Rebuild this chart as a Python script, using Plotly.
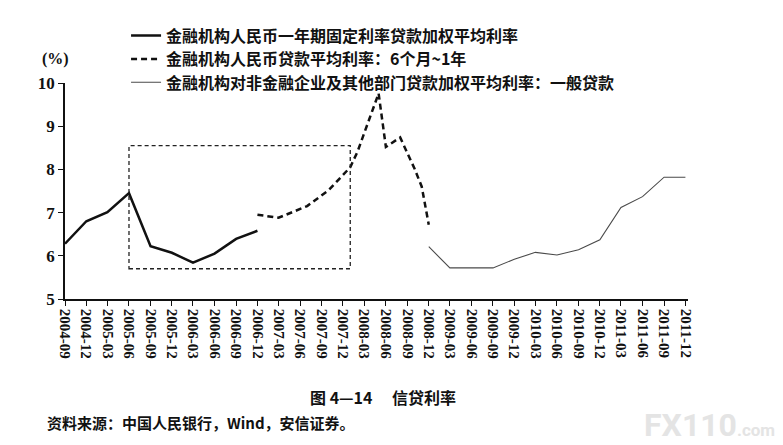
import plotly.graph_objects as go

# quarterly axis labels
quarters = [
    "2004-09", "2004-12", "2005-03", "2005-06", "2005-09", "2005-12",
    "2006-03", "2006-06", "2006-09", "2006-12", "2007-03", "2007-06",
    "2007-09", "2007-12", "2008-03", "2008-06", "2008-09", "2008-12",
    "2009-03", "2009-06", "2009-09", "2009-12", "2010-03", "2010-06",
    "2010-09", "2010-12", "2011-03", "2011-06", "2011-09", "2011-12",
]

# series 1: one-year fixed rate loans, weighted average
fixed_dates = ["2004-09", "2004-12", "2005-03", "2005-06", "2005-09",
               "2005-12", "2006-03", "2006-06", "2006-09", "2006-12"]
fixed_rates = [6.28, 6.80, 7.01, 7.45, 6.22, 6.07, 5.84, 6.05, 6.39, 6.58]

# series 2: average loan rate, 6 months ~ 1 year
avg_dates = ["2006-12", "2007-03", "2007-07", "2007-10", "2008-01", "2008-02",
             "2008-05", "2008-06", "2008-08", "2008-10", "2008-11", "2008-12"]
avg_rates = [6.95, 6.88, 7.15, 7.52, 8.05, 8.41, 9.76, 8.52, 8.74, 8.02, 7.60, 6.72]

# series 3: general loans to non-financial enterprises
general_dates = ["2008-12", "2009-03", "2009-06", "2009-09", "2009-12",
                 "2010-03", "2010-06", "2010-09", "2010-12", "2011-03",
                 "2011-06", "2011-09", "2011-12"]
general_rates = [6.21, 5.72, 5.72, 5.72, 5.92, 6.08, 6.02, 6.14, 6.37,
                 7.12, 7.37, 7.82, 7.82]

# highlighted period (dashed box)
box_start, box_end = "2005-06", "2008-01"
box_low, box_high = 5.7, 8.55

names = [
    "金融机构人民币一年期固定利率贷款加权平均利率",
    "金融机构人民币贷款平均利率：6个月~1年",
    "金融机构对非金融企业及其他部门贷款加权平均利率：一般贷款",
]

serif = "Liberation Serif"
cjk = "Noto Sans CJK SC"

fig = go.Figure()
fig.add_trace(go.Scatter(
    x=[d + "-01" for d in fixed_dates], y=fixed_rates, name=names[0],
    mode="lines", line=dict(color="#111111", width=2.5), legend="legend"))
fig.add_trace(go.Scatter(
    x=[d + "-01" for d in avg_dates], y=avg_rates, name=names[1],
    mode="lines", line=dict(color="#111111", width=2.5, dash="6px,4px"),
    legend="legend2"))
fig.add_trace(go.Scatter(
    x=[d + "-01" for d in general_dates], y=general_rates, name=names[2],
    mode="lines", line=dict(color="#4a4a4a", width=1.1), legend="legend3"))

fig.add_shape(type="rect", xref="x", yref="y",
              x0=box_start + "-01", x1=box_end + "-01", y0=box_low, y1=box_high,
              line=dict(color="#222222", width=1.3, dash="4px,3px"))

fig.update_xaxes(
    range=[quarters[0] + "-01", "2011-12-12"],
    tickvals=[q + "-01" for q in quarters], ticktext=quarters,
    tickangle=90, ticks="outside", ticklen=5, tickwidth=1.3, tickcolor="#111",
    showline=True, linecolor="#111", linewidth=1.5, showgrid=False, zeroline=False,
    tickfont=dict(family=serif, size=15, color="#111", weight="bold"),
)
fig.update_yaxes(
    range=[5, 10], dtick=1, ticks="outside", ticklen=5, tickwidth=1.3,
    tickcolor="#111", showline=True, linecolor="#111", linewidth=1.5,
    showgrid=False, zeroline=False,
    tickfont=dict(family=serif, size=17, color="#111", weight="bold"),
)

legend_style = dict(
    x=0.098, xanchor="left", yanchor="middle",
    bgcolor="rgba(0,0,0,0)", borderwidth=0, itemwidth=30,
    font=dict(family=cjk, size=16, color="#111", weight="bold"),
)

fig.update_layout(
    width=783, height=445,
    margin=dict(l=65, r=95, t=83, b=146),
    plot_bgcolor="white", paper_bgcolor="white",
    showlegend=True,
    legend=dict(legend_style, y=1.219),
    legend2=dict(legend_style, y=1.111),
    legend3=dict(legend_style, y=1.003),
    annotations=[
        dict(text="(%)", xref="paper", yref="paper", x=-0.015, y=1.11,
             xanchor="center", yanchor="middle", showarrow=False,
             font=dict(family=serif, size=16, color="#111", weight="bold")),
        dict(text="图 4—14　 信贷利率", xref="paper", yref="paper",
             x=0.51, y=-0.454, xanchor="center", yanchor="middle",
             showarrow=False,
             font=dict(family=cjk, size=16, color="#111", weight="bold")),
        dict(text="资料来源：中国人民银行，Wind，安信证券。", xref="paper",
             yref="paper", x=-0.032, y=-0.574, xanchor="left", yanchor="middle",
             showarrow=False,
             font=dict(family=cjk, size=15, color="#111", weight="bold")),
        dict(text="FX110<span style='font-size:17px'>.com</span>",
             xref="paper", yref="paper", x=1.035, y=-0.585,
             xanchor="center", yanchor="middle", showarrow=False,
             font=dict(family="Roboto", size=32, color="#e4e4e4", weight="bold")),
    ],
)

fig.write_html("out.html", config={"displayModeBar": False},
               post_script="document.body.style.margin='0px';")
